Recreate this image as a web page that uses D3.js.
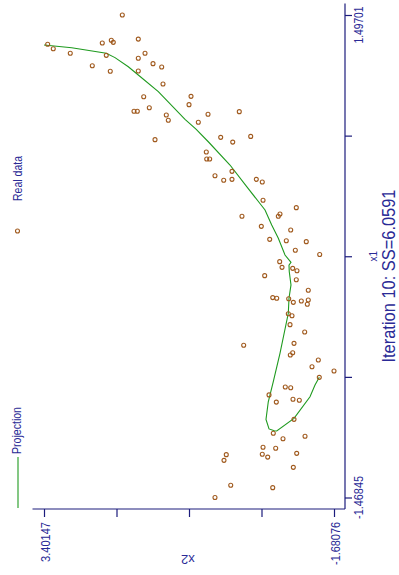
<!DOCTYPE html>
<html>
<head>
<meta charset="utf-8">
<script src="https://cdn.jsdelivr.net/npm/d3@7"></script>
<style>
html,body{margin:0;padding:0;background:#fff;}
svg{display:block;}
text{font-family:'Liberation Sans Narrow','Arial Narrow','Liberation Sans',Arial,sans-serif;fill:#2a2a96;}
</style>
</head>
<body>
<svg id="chart" width="399" height="575"></svg>
<script>
// ---- data (x2, x1) ----
const realX2 = [2.029,3.337,3.239,2.941,2.380,2.222,2.187,2.310,2.555,2.240,1.749,1.631,1.749,1.491,1.339,1.749,1.316,1.654,1.556,1.824,1.766,1.258,1.223,1.456,0.825,0.860,0.527,-0.021,0.697,0.305,0.094,-0.221,0.557,0.550,0.498,0.107,0.405,0.252,0.107,-0.319,-0.424,-0.437,-1.020,-0.068,-0.734,-0.705,-0.407,-0.922,-0.554,-0.845,-1.195,-1.003,-1.430,-0.729,-0.770,-0.957,-1.032,-0.466,-1.020,-1.230,-0.607,-0.677,-0.887,-0.968,-1.108,-1.230,-1.213,-0.880,-0.945,-0.910,-1.167,-0.980,-0.098,-0.957,-0.915,-1.406,-1.295,-1.681,-1.423,-0.827,-0.922,-0.542,-0.670,-0.962,-1.073,-0.980,-0.617,-0.787,-1.173,-0.437,-0.659,0.207,0.247,-0.424,-0.519,-1.027,-0.968,0.129,-0.607,0.405];
const realX1 = [1.497,1.317,1.290,1.262,1.325,1.342,1.329,1.249,1.185,1.151,1.349,1.262,1.231,1.198,1.177,1.153,1.073,0.995,0.927,0.905,0.905,0.882,0.850,0.731,0.997,0.946,0.887,0.903,0.838,0.745,0.716,0.751,0.655,0.612,0.612,0.536,0.509,0.481,0.487,0.487,0.471,0.358,0.313,0.260,0.274,0.260,0.198,0.176,0.118,0.110,0.104,0.051,0.025,-0.019,-0.054,-0.060,-0.075,-0.105,-0.130,-0.195,-0.240,-0.244,-0.247,-0.269,-0.261,-0.255,-0.281,-0.339,-0.351,-0.406,-0.451,-0.521,-0.533,-0.579,-0.593,-0.623,-0.665,-0.691,-0.730,-0.789,-0.794,-0.838,-0.882,-0.865,-0.871,-0.988,-1.074,-1.107,-1.092,-1.160,-1.166,-1.205,-1.240,-1.203,-1.220,-1.197,-1.283,-1.393,-1.408,-1.468];
const projX2 = [3.401,2.916,2.310,2.157,1.924,1.749,1.398,0.930,0.738,0.522,0.142,-0.151,-0.366,-0.472,-0.589,-0.705,-0.822,-0.927,-0.892,-0.897,-0.927,-0.892,-0.880,-0.734,-0.617,-0.529,-0.489,-0.542,-0.635,-0.677,-0.980,-1.260,-1.348,-1.423];
const projX1 = [1.313,1.296,1.262,1.235,1.179,1.128,1.026,0.856,0.796,0.718,0.575,0.442,0.346,0.299,0.206,0.125,0.022,-0.023,-0.040,-0.081,-0.162,-0.244,-0.336,-0.582,-0.757,-0.880,-0.988,-1.047,-1.058,-1.060,-0.982,-0.849,-0.777,-0.730];
const x1Ticks = [-1.46845,-0.727085,0.01428,0.755645,1.49701];
const x1TickLabels = ["-1.46845","","","","1.49701"];
const x2Ticks = [3.40147,2.1309125,0.860355,-0.4102025,-1.68076];
const x2TickLabels = ["3.40147","","","","-1.68076"];
const titleText = "Iteration 10: SS=6.0591";
const legendItems = ["Real data","Projection"];

// ---- drawing ----
const svg = d3.select("#chart");
const AXIS = "#1c1c7c", PT = "#a05a1e", LINE = "#1f9a1f";
const x2Scale = d3.scaleLinear().domain([3.40147,-1.68076]).range([44,334]);
const x1Scale = d3.scaleLinear().domain([-1.46845,1.49701]).range([497.5,15]);
const axX = 345, axY = 509, pad = 11.5;

// axis lines
svg.append("line").attr("x1",axX).attr("x2",axX)
  .attr("y1",x1Scale.range()[1]-pad).attr("y2",axY)
  .attr("stroke",AXIS).attr("stroke-width",1.2);
svg.append("line").attr("x1",x2Scale.range()[0]-pad).attr("x2",axX)
  .attr("y1",axY).attr("y2",axY)
  .attr("stroke",AXIS).attr("stroke-width",1.2);

// ticks via d3 axes
const rAxis = svg.append("g").attr("transform",`translate(${axX},0)`)
  .call(d3.axisRight(x1Scale).tickValues(x1Ticks).tickSize(7).tickFormat(""));
const bAxis = svg.append("g").attr("transform",`translate(0,${axY})`)
  .call(d3.axisBottom(x2Scale).tickValues(x2Ticks).tickSize(8).tickFormat(""));
[rAxis,bAxis].forEach(g=>{
  g.select(".domain").remove();
  g.selectAll(".tick line").attr("stroke",AXIS).attr("stroke-width",1.2);
});

// tick labels
x1Ticks.forEach((v,i)=>{
  if(!x1TickLabels[i]) return;
  const y = Math.max(x1Scale(v), 25);
  svg.append("text").attr("transform",`translate(363,${y}) rotate(-90)`)
    .attr("text-anchor","middle").attr("font-size",12.5)
    .attr("textLength", x1TickLabels[i].length>7?43:37).attr("lengthAdjust","spacingAndGlyphs")
    .text(x1TickLabels[i]);
});
x2Ticks.forEach((v,i)=>{
  if(!x2TickLabels[i]) return;
  svg.append("text").attr("transform",`translate(${x2Scale(v)+5.5},522) rotate(-90)`)
    .attr("text-anchor","end").attr("font-size",12.5)
    .attr("textLength", x2TickLabels[i].length>7?43:40).attr("lengthAdjust","spacingAndGlyphs")
    .text(x2TickLabels[i]);
});

// axis titles
svg.append("text").attr("transform",`translate(377,${x1Scale(0.01428)}) rotate(-90)`)
  .attr("text-anchor","middle").attr("font-size",10).text("x1");
svg.append("text").attr("transform",`translate(${x2Scale(0.860355)-1},555) rotate(180)`)
  .attr("text-anchor","middle").attr("font-size",13).text("x2");

// title
svg.append("text").attr("transform","translate(395,276) rotate(-90)")
  .attr("text-anchor","middle").attr("font-size",18)
  .attr("textLength",173).attr("lengthAdjust","spacingAndGlyphs").text(titleText);

// projection curve
const proj = projX2.map((v,i)=>[v,projX1[i]]);
svg.append("path").datum(proj)
  .attr("d", d3.line().x(d=>x2Scale(d[0])).y(d=>x1Scale(d[1])))
  .attr("fill","none").attr("stroke",LINE).attr("stroke-width",1.1);

// real data points
const pts = realX2.map((v,i)=>[v,realX1[i]]);
svg.append("g").selectAll("circle").data(pts).join("circle")
  .attr("cx",d=>x2Scale(d[0])).attr("cy",d=>x1Scale(d[1])).attr("r",2)
  .attr("fill","none").attr("stroke",PT).attr("stroke-width",1.1);

// legend
svg.append("circle").attr("cx",17.5).attr("cy",231).attr("r",2)
  .attr("fill","none").attr("stroke",PT).attr("stroke-width",1.1);
svg.append("text").attr("transform","translate(22,201) rotate(-90)")
  .attr("text-anchor","start").attr("font-size",12.5)
  .attr("textLength",45).attr("lengthAdjust","spacingAndGlyphs").text(legendItems[0]);
svg.append("line").attr("x1",18).attr("x2",18).attr("y1",457).attr("y2",508)
  .attr("stroke",LINE).attr("stroke-width",1.1);
svg.append("text").attr("transform","translate(20.5,454) rotate(-90)")
  .attr("text-anchor","start").attr("font-size",12.5)
  .attr("textLength",47).attr("lengthAdjust","spacingAndGlyphs").text(legendItems[1]);
</script>
</body>
</html>
